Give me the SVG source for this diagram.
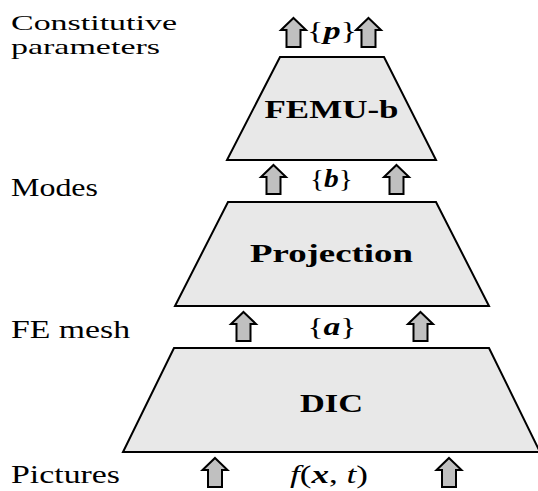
<svg xmlns="http://www.w3.org/2000/svg" width="538" height="491" viewBox="0 0 538 491">
<defs>
<path id="arr" d="M0,0 L12.5,12 L7,12 L7,29 L-7,29 L-7,12 L-12.5,12 Z"/>
</defs>
<style>
.trap{fill:#e8e8e8;stroke:#000;stroke-width:2;stroke-linejoin:miter}
.arw{fill:#c0c0c0;stroke:#000;stroke-width:2;stroke-linejoin:miter}
text{font-family:'Liberation Serif','Times New Roman',serif;fill:#000}
.lab{font-size:25px}
.lab2{font-size:22px}
.bold{font-size:26px;font-weight:bold}
.math{font-size:26px}
.bi{font-weight:bold;font-style:italic}
.it{font-style:italic}
</style>
<rect width="538" height="491" fill="#fff"/>
<g id="labels">
<text class="lab2" x="11" y="30" textLength="166" lengthAdjust="spacingAndGlyphs">Constitutive</text>
<text class="lab2" x="11" y="54" textLength="149" lengthAdjust="spacingAndGlyphs">parameters</text>
<text class="lab" x="11" y="196" textLength="87" lengthAdjust="spacingAndGlyphs">Modes</text>
<text class="lab" x="11" y="338" textLength="119" lengthAdjust="spacingAndGlyphs">FE mesh</text>
<text class="lab" x="11" y="483" textLength="109" lengthAdjust="spacingAndGlyphs">Pictures</text>
</g>
<g id="femu">
<polygon class="trap" points="280,57 384,57 436,160 227,160"/>
<text class="bold" x="331.5" y="118" text-anchor="middle" textLength="134" lengthAdjust="spacingAndGlyphs">FEMU-b</text>
</g>
<g id="projection">
<polygon class="trap" points="228,202 436,202 489,306 175,306"/>
<text class="bold" x="331.5" y="262" text-anchor="middle" textLength="163" lengthAdjust="spacingAndGlyphs">Projection</text>
</g>
<g id="dic">
<polygon class="trap" points="174,348 489,348 540,452 123,452"/>
<text class="bold" x="331.5" y="412" text-anchor="middle" textLength="63" lengthAdjust="spacingAndGlyphs">DIC</text>
</g>
<g id="connectors">
<use href="#arr" class="arw" x="293.5" y="18"/>
<use href="#arr" class="arw" x="368.5" y="18"/>
<use href="#arr" class="arw" x="273.5" y="165"/>
<use href="#arr" class="arw" x="396.5" y="165"/>
<use href="#arr" class="arw" x="243.5" y="312"/>
<use href="#arr" class="arw" x="420.5" y="312"/>
<use href="#arr" class="arw" x="215" y="458"/>
<use href="#arr" class="arw" x="449" y="458"/>
</g>
<g id="flow-labels">
<text class="math" x="332" y="39" text-anchor="middle" textLength="50" lengthAdjust="spacingAndGlyphs">{<tspan class="bi">p</tspan>}</text>
<text class="math" x="331.5" y="187" text-anchor="middle" textLength="43" lengthAdjust="spacingAndGlyphs">{<tspan class="bi">b</tspan>}</text>
<text class="math" x="332" y="335" text-anchor="middle" textLength="49" lengthAdjust="spacingAndGlyphs">{<tspan class="bi">a</tspan>}</text>
<text class="math" x="329" y="483" text-anchor="middle" textLength="78" lengthAdjust="spacingAndGlyphs"><tspan class="it">f</tspan>(<tspan class="bi">x</tspan>, <tspan class="it">t</tspan>)</text>
</g>
</svg>
